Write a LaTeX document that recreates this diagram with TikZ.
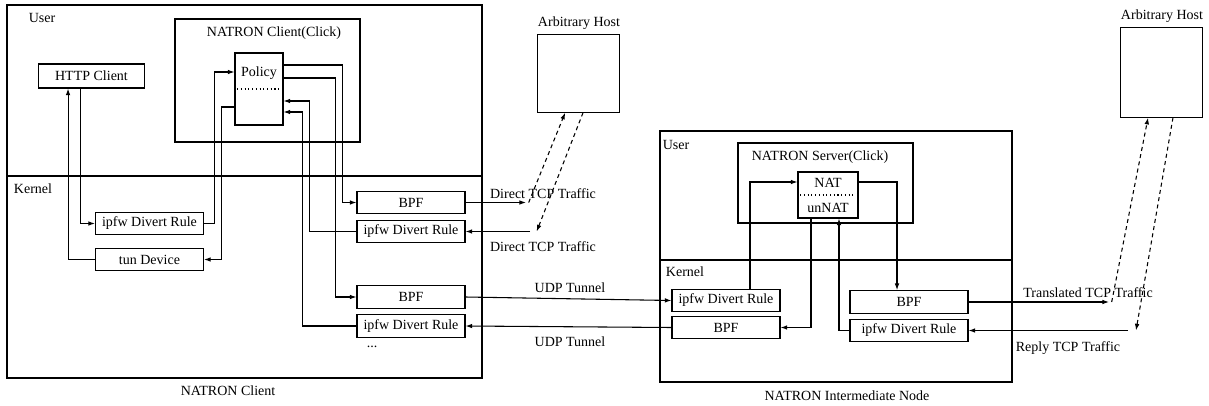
\documentclass[tikz,border=0pt]{standalone}
\usepackage{fontspec}
\setmainfont{Liberation Serif}
\usepackage{tikz}
\usetikzlibrary{arrows.meta,positioning}

\begin{document}
\begin{tikzpicture}[
    x=0.75pt, y=-0.75pt,
    font=\fontsize{10.5}{12}\selectfont,
    line width=0.8pt,
    box/.style={rectangle, draw, minimum width=81pt, minimum height=17pt, inner sep=1pt},
    widebox/.style={box, minimum width=88.5pt},
    arrow/.style={-{Latex[length=5pt,width=3.5pt]}},
    dasharrow/.style={arrow, dash pattern=on 3pt off 2.5pt},
    sep/.style={dotted, line width=0.8pt}
]
\useasboundingbox (0,0) rectangle (1209,406);

% NATRON Client
\draw (7,5) rectangle (482,378);
\draw (7,176) -- (482,176);
\draw (175,19) rectangle (360,142);
\node (usr1) at (42,18) {User};
\node (krn1) at (33,189) {Kernel};
\node (clk1) at (274,33) {NATRON Client(Click)};
\node (cli) at (228,391) {NATRON Client};

\node[box, minimum width=80pt, minimum height=18pt] (http) at (91.5,76) {HTTP Client};
\node[box] (divl) at (149.5,223.5) {ipfw Divert Rule};
\node[box] (tun) at (149.5,259.5) {tun Device};
\node[box, minimum width=36pt, minimum height=54pt] (policy) at (259,89) {};
\node (poltxt) at (259,73) {Policy};
\draw[sep] ([xshift=2pt]policy.west) -- ([xshift=-2pt]policy.east);

\node[box] (bpf1) at (411,202.5) {BPF};
\node[box] (ipfw1) at (411,231.5) {ipfw Divert Rule};
\node[box] (bpf2) at (411,297) {BPF};
\node[box] (ipfw2) at (411,326) {ipfw Divert Rule};
\node (more) at (372,347) {...};

% first host
\node[box, minimum width=62pt, minimum height=58pt] (host1) at (578.5,73.5) {};
\node (h1txt) at (579,23) {Arbitrary Host};

% NATRON Intermediate Node
\draw (660,131) rectangle (1012,382);
\draw (660,260) -- (1012,260);
\draw (738,143) rectangle (913,223);
\node (usr2) at (676,145) {User};
\node (krn2) at (685,272) {Kernel};
\node (srv) at (820,157) {NATRON Server(Click)};
\node (mid) at (847,396) {NATRON Intermediate Node};

\node[box, minimum width=45pt, minimum height=34.5pt] (nat) at (828,195) {};
\node (nattxt) at (828,183) {NAT};
\node (unnattxt) at (828,208) {unNAT};
\draw[sep] ([xshift=2pt]nat.west) -- ([xshift=-2pt]nat.east);

\node[box] (ipfw3) at (726,300.5) {ipfw Divert Rule};
\node[box] (bpf3) at (726,327.5) {BPF};
\node[widebox] (bpf4) at (909,302) {BPF};
\node[widebox] (ipfw4) at (909,330.5) {ipfw Divert Rule};

% second host
\node[box, minimum width=62pt, minimum height=67pt] (host2) at (1161.5,72.5) {};
\node (h2txt) at (1162,16) {Arbitrary Host};

% traffic labels
\coordinate (d1) at (526,202.5);
\coordinate (d2) at (530,231.5);
\coordinate (t1) at (1109,302);
\coordinate (t2) at (1128,330.5);
\node (dt1) at (543,194) {Direct TCP Traffic};
\node (dt2) at (543,247) {Direct TCP Traffic};
\node (udp1) at (570,288) {UDP Tunnel};
\node (udp2) at (570,342) {UDP Tunnel};
\node (tt) at (1088,293) {Translated TCP Traffic};
\node (rt) at (1068,348) {Reply TCP Traffic};

% Connections (client)
\draw[arrow] (tun.west) -| ([xshift=-17.6pt]http.south);
\draw[arrow] ([xshift=-8.6pt]http.south) |- (divl.west);
\draw[arrow] (divl.east) -- ++(10,0) |- ([yshift=12.75pt]policy.west);
\draw[arrow] ([yshift=-13.5pt]policy.west) -- ++(-13,0) |- (tun.east);
\draw[arrow] ([yshift=18pt]policy.east) -- ++(59,0) |- (bpf1.west);
\draw[arrow] ([yshift=8.25pt]policy.east) -- ++(52,0) |- (bpf2.west);
\draw[arrow] (ipfw1.west) -- ++(-47,0) |- ([yshift=-9pt]policy.east);
\draw[arrow] (ipfw2.west) -- ++(-54,0) |- ([yshift=-17.25pt]policy.east);

\draw[arrow] (bpf1.east) -- (d1);
\draw[dasharrow] ([xshift=2pt]d1) -- ([xshift=-10pt]host1.south);
\draw[dasharrow] ([xshift=3.4pt]host1.south) -- ([xshift=5pt]d2);
\draw[arrow] (d2) -- (ipfw1.east);

% Connections (tunnel)
\draw[arrow] (bpf2.east) -- (ipfw3.west);
\draw[arrow] (bpf3.west) -- (ipfw2.east);

% Connections (intermediate node)
\draw[arrow] ([xshift=18pt]ipfw3.north) |- ([yshift=9.75pt]nat.west);
\draw[arrow] ([yshift=9.75pt]nat.east) -| ([xshift=-9pt]bpf4.north);
\draw[arrow] ([xshift=-12.75pt]nat.south) |- (bpf3.east);
\draw[arrow] (ipfw4.west) -| ([xshift=8.25pt]nat.south);

\draw[arrow] (bpf4.east) -- (t1);
\draw[dasharrow] ([xshift=2pt]t1) -- ([xshift=-10.1pt]host2.south);
\draw[dasharrow] ([xshift=8.6pt]host2.south) -- ([xshift=6pt]t2);
\draw[arrow] (t2) -- (ipfw4.east);
\end{tikzpicture}
\end{document}
